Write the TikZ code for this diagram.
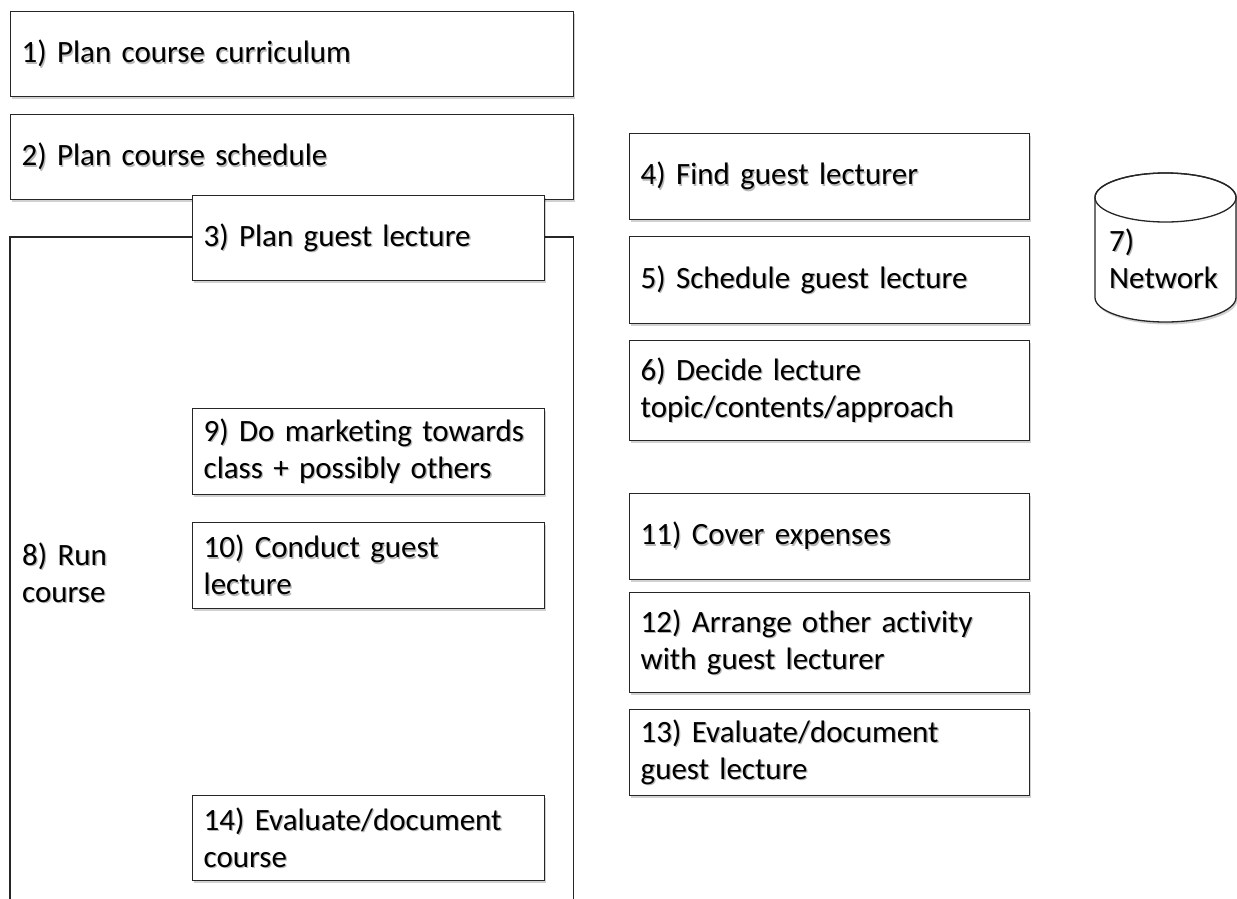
\documentclass[tikz,border=0pt]{standalone}
\usepackage{fontspec}
\setmainfont{Carlito}[Ligatures=NoCommon]
\usetikzlibrary{shadows}
\newcommand{\boxfont}{\fontsize{31}{37}\selectfont}
\newcommand{\tx}[1]{\leavevmode\rlap{\kern1.3pt\raisebox{-1.6pt}{\color{black!28}#1}}#1}
\tikzset{
  box/.style={draw=black!85, line width=1.3pt, fill=white, anchor=north west,
    inner xsep=11pt, inner ysep=0pt, align=left, font=\boxfont,
    drop shadow={shadow xshift=1.5pt, shadow yshift=-2.5pt, opacity=0.18, fill=black}},
  wide/.style={minimum width=563pt, text width=541pt},
  mid/.style={minimum width=352pt, text width=330pt},
  right/.style={minimum width=400pt, text width=378pt},
  plain/.style={anchor=north west, inner xsep=12pt, inner ysep=0pt, align=left, font=\boxfont},
  edge/.style={draw=black!85, line width=1.3pt}
}
\begin{document}
\begin{tikzpicture}[x=1pt,y=-1pt]
\useasboundingbox[fill=white] (0,0) rectangle (1237,899);
% left column
\node[box, wide, minimum height=85pt] (b1) at (10,11) {\tx{1) Plan course curriculum}};
\node[box, wide, minimum height=85pt] (b2) at (10,114) {\tx{2) Plan course schedule}};
\node[plain, minimum width=563pt, minimum height=672pt, text width=539pt] (b8) at (10,237) {\tx{8) Run}\\\tx{course}};
\draw[edge] (b8.south west) -- (b8.north west) -- (b8.north east) -- (b8.south east);
\node[box, mid, minimum height=85pt] (b3) at (192,195) {\tx{3) Plan guest lecture}};
\node[box, mid, minimum height=86pt] (b9) at (192,408) {\tx{9) Do marketing towards}\\\tx{class + possibly others}};
\node[box, mid, minimum height=86pt] (b10) at (192,522) {\tx{10) Conduct guest}\\\tx{lecture}};
\node[box, mid, minimum height=85pt] (b14) at (192,795) {\tx{14) Evaluate/document}\\\tx{course}};
% right column
\node[box, right, minimum height=86pt] (b4) at (629,133) {\tx{4) Find guest lecturer}};
\node[box, right, minimum height=87pt] (b5) at (629,236) {\tx{5) Schedule guest lecture}};
\node[box, right, minimum height=100pt] (b6) at (629,340) {\tx{6) Decide lecture}\\\tx{topic/contents/approach}};
\node[box, right, minimum height=86pt] (b11) at (629,493) {\tx{11) Cover expenses}};
\node[box, right, minimum height=100pt] (b12) at (629,592) {\tx{12) Arrange other activity}\\\tx{with guest lecturer}};
\node[box, right, minimum height=86pt] (b13) at (629,709) {\tx{13) Evaluate/document}\\\tx{guest lecture}};
% cylinder
\coordinate (ct) at (1165.5,197.5);
\coordinate (cb) at (1165.5,297.5);
\draw[edge, fill=white, drop shadow={shadow xshift=1.5pt, shadow yshift=-2.5pt, opacity=0.18, fill=black}]
  ([xshift=-70.5pt]ct) -- ([xshift=-70.5pt]cb)
  arc[start angle=180, end angle=360, x radius=70.5pt, y radius=24.5pt]
  -- ([xshift=70.5pt]ct)
  arc[start angle=0, end angle=180, x radius=70.5pt, y radius=24.5pt] -- cycle;
\draw[edge] (ct) ellipse[x radius=70.5pt, y radius=24.5pt];
\node[anchor=base west, inner sep=0pt, align=left, font=\boxfont] (b7) at (1109,288) {\tx{7)}\\\tx{Network}};
\end{tikzpicture}
\end{document}
